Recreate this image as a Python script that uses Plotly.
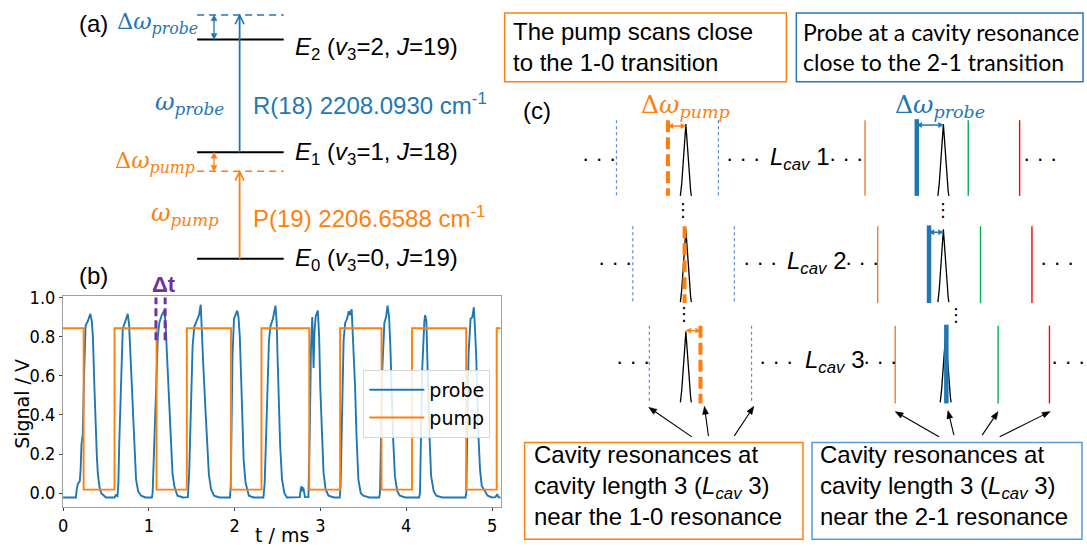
import numpy as np
import plotly.graph_objects as go

W, H = 1087, 547

# ---------------- panel (b): recorded signals ----------------
# pump: square-wave switching times (ms) and levels (V)
pump_t = [0.000, 0.240, 0.600, 1.090, 1.443, 1.958, 2.313, 2.870, 3.229, 3.712, 4.068, 4.698, 5.054, 5.101]
pump_v = [0.843, 0.018, 0.843, 0.018, 0.843, 0.018, 0.843, 0.018, 0.843, 0.018, 0.843, 0.018, 0.843, 0.843]

# probe: transmitted signal (ms, V)
probe_t = [0.000, 0.150, 0.160, 0.175, 0.195, 0.205, 0.215, 0.230, 0.245, 0.263, 0.290, 0.318, 0.335, 0.348,
           0.365, 0.379, 0.395, 0.406, 0.425, 0.445, 0.500, 0.600, 0.615, 0.635, 0.645, 0.655, 0.675, 0.696,
           0.735, 0.754, 0.770, 0.790, 0.805, 0.820, 0.835, 0.851, 0.875, 0.910, 0.960, 1.035, 1.044, 1.060,
           1.083, 1.105, 1.122, 1.150, 1.180, 1.195, 1.210, 1.238, 1.255, 1.276, 1.300, 1.334, 1.400, 1.455,
           1.470, 1.490, 1.510, 1.530, 1.560, 1.585, 1.605, 1.615, 1.635, 1.663, 1.680, 1.700, 1.725, 1.760,
           1.820, 1.945, 1.955, 1.965, 1.975, 1.992, 2.010, 2.030, 2.045, 2.060, 2.075, 2.088, 2.105, 2.127,
           2.166, 2.220, 2.335, 2.350, 2.378, 2.400, 2.418, 2.445, 2.476, 2.490, 2.500, 2.514, 2.530, 2.552,
           2.580, 2.610, 2.700, 2.760, 2.770, 2.780, 2.790, 2.800, 2.820, 2.860, 2.875, 2.890, 2.905, 2.915,
           2.920, 2.930, 2.945, 2.970, 2.985, 2.998, 3.015, 3.036, 3.060, 3.094, 3.160, 3.225, 3.235, 3.250,
           3.270, 3.288, 3.310, 3.330, 3.345, 3.364, 3.375, 3.390, 3.404, 3.420, 3.442, 3.470, 3.500, 3.570,
           3.685, 3.694, 3.720, 3.745, 3.765, 3.782, 3.800, 3.815, 3.828, 3.845, 3.868, 3.895, 3.926, 3.990,
           4.150, 4.160, 4.185, 4.200, 4.210, 4.220, 4.235, 4.245, 4.254, 4.270, 4.290, 4.320, 4.350, 4.420,
           4.690, 4.700, 4.726, 4.749, 4.770, 4.788, 4.800, 4.815, 4.842, 4.860, 4.880, 4.950, 5.000, 5.040,
           5.060, 5.075, 5.101]
probe_v = [-0.022, -0.022, 0.020, 0.050, 0.060, 0.120, 0.250, 0.300, 0.600, 0.857, 0.880, 0.916, 0.880, 0.800,
           0.550, 0.350, 0.180, 0.100, 0.030, 0.000, -0.022, -0.022, -0.010, -0.015, 0.050, 0.250, 0.600, 0.840,
           0.890, 0.916, 0.860, 0.700, 0.520, 0.370, 0.200, 0.070, 0.010, -0.013, -0.022, -0.022, 0.000, 0.200,
           0.540, 0.800, 0.870, 0.910, 0.933, 0.870, 0.720, 0.455, 0.250, 0.100, 0.030, -0.013, -0.022, -0.020,
           0.100, 0.500, 0.750, 0.850, 0.880, 0.910, 0.963, 0.880, 0.650, 0.400, 0.220, 0.095, 0.020, -0.013,
           -0.022, -0.022, 0.040, 0.300, 0.700, 0.890, 0.910, 0.933, 0.900, 0.800, 0.600, 0.372, 0.170, 0.055,
           -0.013, -0.022, -0.022, 0.050, 0.540, 0.780, 0.853, 0.890, 0.958, 0.870, 0.700, 0.455, 0.250, 0.070,
           0.000, -0.022, -0.022, -0.020, 0.020, 0.035, 0.010, 0.030, -0.020, -0.020, 0.300, 0.750, 0.900, 0.750,
           0.640, 0.820, 0.905, 0.933, 0.800, 0.540, 0.300, 0.105, 0.020, -0.013, -0.022, -0.022, 0.040, 0.450,
           0.780, 0.870, 0.890, 0.930, 0.910, 0.940, 0.850, 0.700, 0.540, 0.300, 0.070, 0.000, -0.013, -0.022,
           -0.022, 0.000, 0.620, 0.870, 0.900, 0.958, 0.900, 0.750, 0.540, 0.300, 0.087, 0.010, -0.013, -0.022,
           -0.022, 0.000, 0.620, 0.800, 0.870, 0.910, 0.880, 0.700, 0.540, 0.300, 0.087, 0.010, -0.013, -0.022,
           -0.022, 0.000, 0.706, 0.890, 0.900, 0.950, 0.850, 0.706, 0.290, 0.120, 0.037, -0.013, -0.022, -0.020,
           -0.005, -0.020, -0.022]

x_ticks = [0, 1, 2, 3, 4, 5]
y_ticks = [0.0, 0.2, 0.4, 0.6, 0.8, 1.0]
dt_window = [1.083, 1.190]   # delay window marked as Δt

BLUE = "#1f77b4"
ORANGE = "#ff7f0e"
PURPLE = "#7030A0"
SANS = "Liberation Sans, Arial, sans-serif"
NARROW = "Liberation Sans Narrow, DejaVu Sans Condensed, Liberation Sans, sans-serif"
MPL = "DejaVu Sans, sans-serif"
MATH = "DejaVu Serif, serif"
CALI = "Lato, Open Sans, sans-serif"

fig = go.Figure()

fig.add_trace(go.Scatter(x=probe_t, y=probe_v, mode="lines", name="probe",
                         line=dict(color=BLUE, width=1.9), xaxis="x", yaxis="y"))
fig.add_trace(go.Scatter(x=pump_t, y=pump_v, mode="lines", name="pump", line_shape="hv",
                         line=dict(color=ORANGE, width=1.9), xaxis="x", yaxis="y"))

shapes = []
annots = []

# Δt markers on the signal plot
for tx in dt_window:
    shapes.append(dict(type="line", xref="x", yref="y", x0=tx, x1=tx, y0=0.782, y1=1.0,
                       line=dict(color=PURPLE, width=3, dash="8px,4px")))


def px_text(x, y, text, size=24, color="black", family=SANS, xanchor="left", yanchor="middle", **kw):
    annots.append(dict(xref="x2", yref="y2", x=x, y=y, text=text, showarrow=False,
                       xanchor=xanchor, yanchor=yanchor, align="left",
                       font=dict(size=size, color=color, family=family), **kw))


def px_line(x0, y0, x1, y1, color="black", width=1.5, dash=None):
    ln = dict(color=color, width=width)
    if dash:
        ln["dash"] = dash
    shapes.append(dict(type="line", xref="x2", yref="y2", x0=x0, y0=y0, x1=x1, y1=y1, line=ln))


def head(xt, yt, xs, ys, color, hl, hw):
    """Filled triangular arrow head at (xt, yt) pointing away from (xs, ys)."""
    d = np.array([xt - xs, yt - ys], dtype=float)
    d /= np.hypot(*d)
    n = np.array([-d[1], d[0]])
    b = np.array([xt, yt]) - d * hl
    p1, p2 = b + n * hw / 2, b - n * hw / 2
    shapes.append(dict(type="path", xref="x2", yref="y2",
                       path=f"M {xt} {yt} L {p1[0]} {p1[1]} L {p2[0]} {p2[1]} Z",
                       fillcolor=color, line=dict(color=color, width=0.5)))
    return b


def px_arrow(xt, yt, xs, ys, color="black", width=1.2, both=False, hl=7, hw=6):
    end = head(xt, yt, xs, ys, color, hl, hw)
    start = head(xs, ys, xt, yt, color, hl, hw) if both else np.array([xs, ys])
    px_line(start[0], start[1], end[0], end[1], color=color, width=width)


def px_rect(x0, y0, x1, y1, color):
    shapes.append(dict(type="rect", xref="x2", yref="y2", x0=x0, y0=y0, x1=x1, y1=y1,
                       line=dict(color=color, width=1.5), fillcolor="rgba(0,0,0,0)"))


def chevron(x, y, color):
    shapes.append(dict(type="path", xref="x2", yref="y2",
                       path=f"M {x-4.5} {y+9} L {x} {y} L {x+4.5} {y+9}",
                       line=dict(color=color, width=1.6)))


# ---------------- panel (a): level scheme ----------------
lvl_x0, lvl_x1 = 193, 280
for ly in (31, 145.7, 254):
    px_line(lvl_x0, ly, lvl_x1, ly, width=2)
px_line(lvl_x0, 6, lvl_x1, 6, color=BLUE, width=1.5, dash="7px,5px")
px_line(lvl_x0, 165, lvl_x1, 165, color=ORANGE, width=1.5, dash="7px,5px")
px_line(235.7, 145.7, 235.7, 6.5, color=BLUE, width=1.8)
chevron(235.7, 6.5, BLUE)
px_line(235.7, 254, 235.7, 165.5, color=ORANGE, width=1.8)
chevron(235.7, 165.5, ORANGE)
px_arrow(210, 31, 210, 6, color=BLUE, width=1.3, both=True, hl=6, hw=6)
px_arrow(210, 165, 210, 145.7, color=ORANGE, width=1.3, both=True, hl=6, hw=6)

px_text(72, 15, "(a)")
px_text(111, 14, "Δ<i>ω</i><sub><i>probe</i></sub>", size=22.5, color=BLUE, family=MATH)
px_text(289, 40, "<i>E</i><sub>2</sub> (<i>v</i><sub>3</sub>=2, <i>J</i>=19)", size=24)
px_text(149, 96, "<i>ω</i><sub><i>probe</i></sub>", size=24, color=BLUE, family=MATH)
px_text(247, 97, "R(18) 2208.0930 cm<sup>-1</sup>", size=24, color=BLUE)
px_text(108, 156, "Δ<i>ω</i><sub><i>pump</i></sub>", size=22.5, color=ORANGE, family=MATH)
px_text(289, 147, "<i>E</i><sub>1</sub> (<i>v</i><sub>3</sub>=1, <i>J</i>=18)", size=24)
px_text(145, 209, "<i>ω</i><sub><i>pump</i></sub>", size=24, color=ORANGE, family=MATH)
px_text(247, 211, "P(19) 2206.6588 cm<sup>-1</sup>", size=24, color=ORANGE)
px_text(289, 255, "<i>E</i><sub>0</sub> (<i>v</i><sub>3</sub>=0, <i>J</i>=19)", size=24)

# ---------------- panel (b) labels ----------------
px_text(72, 271, "(b)")
px_text(146, 280, "<b>Δt</b>", size=22, color=PURPLE)

# ---------------- panel (c): cavity resonances ----------------
px_text(518, 103, "(c)")
px_rect(502, 4, 785, 74, ORANGE)
px_text(508, 39, "The pump scans close<br>to the 1-0 transition", size=24)
px_rect(795, 4, 1083, 74, "#2E75B6")
px_text(800, 39, "Probe at a cavity resonance<br>close to the 2-1 transition", size=23, family=CALI)

px_text(637, 99, "Δ<i>ω</i><sub><i>pump</i></sub>", size=25, color=ORANGE, family=MATH)
px_text(892, 99, "Δ<i>ω</i><sub><i>probe</i></sub>", size=25, color=BLUE, family=MATH)


def spike(cx, base, top, half=5.5):
    d = np.linspace(-half, half, 45)
    y = base - (base - top) * (1 - np.abs(d) / half) ** 1.25
    fig.add_trace(go.Scatter(x=cx + d, y=y, mode="lines", line=dict(color="black", width=1.3),
                             xaxis="x2", yaxis="y2", showlegend=False, hoverinfo="skip"))


rows = [
    dict(top=113, bot=190, mid=152, dots=[597, 741, 845, 1040], lab=767, n="1",
         cav=(614.3, 716.7), pump=666, comb=(864, 916, 967.7, 1019.3)),
    dict(top=221, bot=299, mid=258, dots=[613, 758, 861, 1057], lab=784, n="2",
         cav=(630.7, 732.7), pump=682.7, comb=(876.7, 928.3, 980, 1031.7)),
    dict(top=322, bot=401, mid=358, dots=[631, 775, 879, None], lab=802, n="3",
         cav=(647.3, 750), pump=698.7, comb=(894.3, 945.7, 997.7, 1049.3)),
]
for r in rows:
    for cx in r["cav"]:
        px_line(cx, r["top"], cx, r["bot"], color="#5B8BD8", width=1.2, dash="3px,3px")
    o, b, g, rd = r["comb"]
    px_line(o, r["top"], o, r["bot"], color="#ED7D31", width=1.4)
    px_line(b, r["top"] - 1, b, r["bot"], color=BLUE, width=4.5)
    px_line(g, r["top"], g, r["bot"], color="#00B050", width=1.4)
    px_line(rd, r["top"], rd, r["bot"], color="#FF0000", width=1.4)
    px_line(r["pump"], r["top"], r["pump"], r["bot"], color=ORANGE, width=4, dash="12px,5px")
    for dx in r["dots"]:
        if dx is None:
            px_text(1087, r["mid"], "· · ·", size=22, xanchor="right")
        else:
            px_text(dx, r["mid"], "· · ·", size=22, xanchor="center")
    px_text(r["lab"], r["mid"], "<i>L</i><sub><i>cav</i></sub> " + r["n"], size=24)

spike(684, 190, 117)
spike(942.7, 190, 117)
spike(684, 298, 224)
spike(942.7, 298, 224)
spike(684, 400, 328)
spike(945, 400, 330)

px_arrow(684, 119, 666, 119, color=ORANGE, width=1.5, both=True, hl=5, hw=5)
px_arrow(942.7, 118, 916, 118, color=BLUE, width=1.5, both=True, hl=5, hw=5)
px_arrow(942.7, 227, 928.3, 227, color=BLUE, width=1.5, both=True, hl=5, hw=5)
px_arrow(684, 327, 698.7, 327, color=ORANGE, width=1.5, both=True, hl=5, hw=5)

for vx, vy in [(681, 204), (942.5, 204), (682, 310), (955, 311)]:
    px_text(vx, vy, "⋮", size=18, xanchor="center", family=MPL)

# pointer arrows to the resonances of cavity length 3
for tip, tail in [((646.7, 405), (690, 435)), ((702.7, 404), (706.7, 434.3)), ((752.3, 404), (732.7, 434)),
                  ((894.3, 409.3), (938.3, 435)), ((947.3, 408.3), (953.3, 433.3)),
                  ((997.7, 409.3), (981.7, 433.3)), ((1050, 409.3), (999.3, 435))]:
    px_arrow(tip[0], tip[1], tail[0], tail[1], width=1.1, hl=8, hw=6)

px_rect(522, 440.7, 801.7, 539, ORANGE)
px_text(529, 484, "Cavity resonances at<br>cavity length 3 (<i>L</i><sub><i>cav</i></sub> 3)<br>near the 1-0 resonance", size=24)
px_rect(810.7, 440.7, 1082, 539, "#5B9BD5")
px_text(817, 484, "Cavity resonances at<br>cavity length 3 (<i>L</i><sub><i>cav</i></sub> 3)<br>near the 2-1 resonance", size=24)

# axis titles of the signal plot
annots.append(dict(xref="paper", yref="paper", x=278 / W, y=1 - 535 / H, text="t / ms", showarrow=False,
                   xanchor="center", yanchor="middle", font=dict(size=19, family=MPL, color="black")))
annots.append(dict(xref="paper", yref="paper", x=17.5 / W, y=1 - 401 / H, text="Signal / V", showarrow=False,
                   textangle=-90, xanchor="center", yanchor="middle",
                   font=dict(size=19, family=MPL, color="black")))

axis_common = dict(showgrid=False, zeroline=False, showline=True, linecolor="#a0a0a0", linewidth=1.2,
                   mirror=True, ticks="outside", ticklen=3, tickcolor="#444",
                   tickfont=dict(size=18, family=NARROW, color="black"))

fig.update_layout(
    width=W, height=H, margin=dict(l=0, r=0, t=0, b=0),
    paper_bgcolor="white", plot_bgcolor="rgba(0,0,0,0)",
    xaxis=dict(domain=[58.3 / W, 498 / W], range=[0, 5.101], tickvals=x_ticks,
               ticktext=[str(v) for v in x_ticks], anchor="y", **axis_common),
    yaxis=dict(domain=[(H - 506) / H, (H - 291.7) / H], range=[-0.069, 1.008], tickvals=y_ticks,
               ticktext=[f"{v:.1f}" for v in y_ticks], anchor="x", **axis_common),
    xaxis2=dict(domain=[0, 1], range=[0, W], visible=False, anchor="y2"),
    yaxis2=dict(domain=[0, 1], range=[H, 0], visible=False, anchor="x2"),
    legend=dict(x=360 / W, y=1 - 367 / H, xanchor="left", yanchor="top", itemwidth=55,
                bgcolor="rgba(255,255,255,0.85)", bordercolor="#d8d8d8", borderwidth=1,
                font=dict(size=19, family=MPL, color="black")),
    shapes=shapes, annotations=annots,
)

fig.write_html("out.html")
